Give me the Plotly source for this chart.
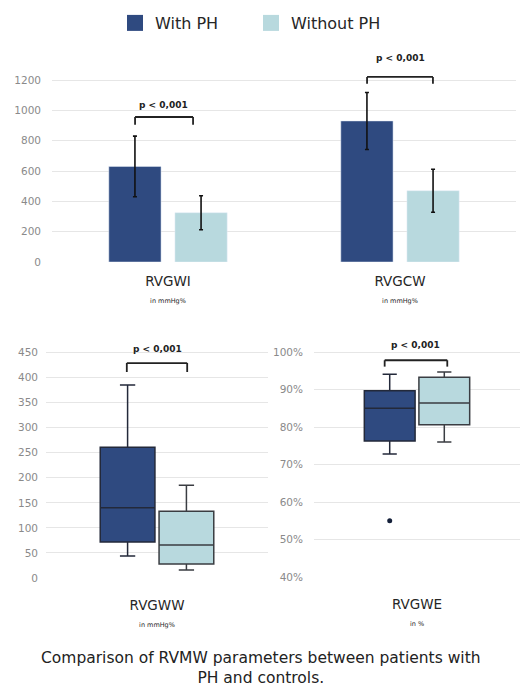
import plotly.graph_objects as go

# ---------------- data ----------------
groups = ["With PH", "Without PH"]
colors = ["#2f4a80", "#b8d9de"]

bar_categories = ["RVGWI", "RVGCW"]
bar_units = ["in mmHg%", "in mmHg%"]
bar_with_ph = [630, 930]
bar_with_ph_sd = [200, 188]
bar_without_ph = [325, 470]
bar_without_ph_sd = [112, 142]
bar_ticks = [0, 200, 400, 600, 800, 1000, 1200]

ww_category = ["RVGWW"]
ww_unit = "in mmHg%"
ww_with = dict(lowerfence=[44], q1=[72], median=[140], q3=[261], upperfence=[385])
ww_without = dict(lowerfence=[16], q1=[28], median=[66], q3=[133], upperfence=[185])
ww_ticks = [0, 50, 100, 150, 200, 250, 300, 350, 400, 450]

we_category = ["RVGWE"]
we_unit = "in %"
we_with = dict(lowerfence=[72.8], q1=[76.3], median=[85], q3=[89.7], upperfence=[94.1])
we_with_outliers = [[55]]
we_without = dict(lowerfence=[76], q1=[80.6], median=[86.4], q3=[93.3], upperfence=[94.7])
we_ticks = [40, 50, 60, 70, 80, 90, 100]
we_ticktext = ["40%", "50%", "60%", "70%", "80%", "90%", "100%"]

p_text = "p < 0,001"
caption = "Comparison of RVMW parameters between patients with<br>PH and controls."

FONT = "DejaVu Sans"
GRID = "#e6e6e6"
TICK = "#8a8a8a"
DARK = "#262626"

fig = go.Figure()

# ---------- top bar chart ----------
fig.add_trace(go.Bar(
    x=bar_categories, y=bar_with_ph, name=groups[0], marker_color=colors[0],
    error_y=dict(type="data", array=bar_with_ph_sd, color="#111111", thickness=1.6, width=2),
    xaxis="x", yaxis="y", showlegend=False))
fig.add_trace(go.Bar(
    x=bar_categories, y=bar_without_ph, name=groups[1], marker_color=colors[1],
    error_y=dict(type="data", array=bar_without_ph_sd, color="#111111", thickness=1.6, width=2),
    xaxis="x", yaxis="y", showlegend=False))

# legend entries (square swatches)
for g, c in zip(groups, colors):
    fig.add_trace(go.Scatter(x=[None], y=[None], mode="markers", name=g,
                             marker=dict(symbol="square", size=18, color=c),
                             xaxis="x", yaxis="y", showlegend=True))

box_line_with = dict(color="#23293a", width=1.5)
box_line_without = dict(color="#3a3d42", width=1.5)

# ---------- bottom left box ----------
fig.add_trace(go.Box(x=ww_category, **ww_with, name=groups[0], fillcolor=colors[0],
                     line=box_line_with, whiskerwidth=0.28, boxpoints=False,
                     alignmentgroup="ww", offsetgroup="with",
                     showlegend=False, xaxis="x2", yaxis="y2"))
fig.add_trace(go.Box(x=ww_category, **ww_without, name=groups[1], fillcolor=colors[1],
                     line=box_line_without, whiskerwidth=0.28, boxpoints=False,
                     alignmentgroup="ww", offsetgroup="without",
                     showlegend=False, xaxis="x2", yaxis="y2"))

# ---------- bottom right box ----------
fig.add_trace(go.Box(x=we_category, y=we_with_outliers, **we_with, name=groups[0], fillcolor=colors[0],
                     line=box_line_with, whiskerwidth=0.28,
                     boxpoints="outliers", marker=dict(color="#15203a", size=5),
                     alignmentgroup="we", offsetgroup="with",
                     showlegend=False, xaxis="x3", yaxis="y3"))
fig.add_trace(go.Box(x=we_category, **we_without, name=groups[1], fillcolor=colors[1],
                     line=box_line_without, whiskerwidth=0.28, boxpoints=False,
                     alignmentgroup="we", offsetgroup="without",
                     showlegend=False, xaxis="x3", yaxis="y3"))

def label(cat, unit):
    return f"{cat}<br><span style='font-size:6.5px'>{unit}</span>"

H = 688.0
W = 522.0
def py(pix):
    return (H - pix) / H
def px(pix):
    return pix / W

axis_common = dict(showline=False, zeroline=False, ticks="", fixedrange=True, automargin=False)
cat_font = dict(size=13.5, color=DARK)
tick_font = dict(size=10.5, color=TICK)

fig.update_layout(
    width=522, height=688,
    margin=dict(l=0, r=0, t=0, b=0, autoexpand=False),
    paper_bgcolor="white", plot_bgcolor="white",
    font=dict(family=FONT, color=DARK),
    barmode="group", bargap=0.43, bargroupgap=0.21,
    boxmode="group", boxgap=0.47, boxgroupgap=0.07,
    showlegend=True,
    legend=dict(orientation="h", x=px(115), xanchor="left", y=py(23), yanchor="middle",
                font=dict(size=16, color=DARK), itemwidth=30, entrywidth=91,
                traceorder="normal", bgcolor="rgba(0,0,0,0)"),
    xaxis=dict(domain=[px(52), px(516)], type="category", range=[-0.5, 1.5],
               tickvals=bar_categories,
               ticktext=[label(c, u) for c, u in zip(bar_categories, bar_units)],
               tickfont=cat_font, ticklabelstandoff=9, showgrid=False,
               anchor="y", **axis_common),
    yaxis=dict(domain=[py(262), py(262 - 1440 * 182 / 1200)], range=[0, 1440],
               tickvals=bar_ticks,
               showgrid=True, gridcolor=GRID, gridwidth=1,
               tickfont=tick_font, ticklabelstandoff=10, anchor="x",
               **axis_common),
    xaxis2=dict(domain=[px(46), px(268)], type="category", range=[-0.5, 0.5],
                tickvals=ww_category, ticktext=[label(ww_category[0], ww_unit)],
                tickfont=cat_font, ticklabelstandoff=17, showgrid=False,
                anchor="y2", **axis_common),
    yaxis2=dict(domain=[py(578), py(578 - 480 * 225.5 / 450)], range=[0, 480],
                tickvals=ww_ticks,
                showgrid=True, gridcolor=GRID, gridwidth=1,
                tickfont=tick_font, ticklabelstandoff=7, anchor="x2",
                **axis_common),
    xaxis3=dict(domain=[px(314), px(520)], type="category", range=[-0.5, 0.5],
                tickvals=we_category, ticktext=[label(we_category[0], we_unit)],
                tickfont=cat_font, ticklabelstandoff=17, showgrid=False,
                anchor="y3", **axis_common),
    yaxis3=dict(domain=[py(577), py(577 - 64 * 3.75)], range=[40, 104],
                tickvals=we_ticks, ticktext=we_ticktext,
                showgrid=True, gridcolor=GRID, gridwidth=1,
                tickfont=tick_font, ticklabelstandoff=10, anchor="x3",
                **axis_common),
)

# ---------- significance brackets ----------
brackets = [
    # (xref, yref, x_left, x_right, y_top, y_leg, y_text, x_text)
    ("x", "y", -0.142, 0.108, 956, 905, 1035, -0.02),
    ("x", "y", 0.858, 1.142, 1220, 1175, 1345, 1.0),
    ("x2", "y2", -0.136, 0.136, 429, 411, 457, 0.0),
    ("x3", "y3", -0.157, 0.147, 97.8, 96.1, 101.9, -0.005),
]
for xr, yr, xl, xrgt, yt, yl, ytx, xtx in brackets:
    ln = dict(color="#222222", width=1.8)
    fig.add_shape(type="line", xref=xr, yref=yr, x0=xl, x1=xrgt, y0=yt, y1=yt, line=ln)
    fig.add_shape(type="line", xref=xr, yref=yr, x0=xl, x1=xl, y0=yt, y1=yl, line=ln)
    fig.add_shape(type="line", xref=xr, yref=yr, x0=xrgt, x1=xrgt, y0=yt, y1=yl, line=ln)
    fig.add_annotation(xref=xr, yref=yr, x=xtx, y=ytx, text=f"<b>{p_text}</b>",
                       showarrow=False, font=dict(size=9, color="#222222"))

fig.add_annotation(xref="paper", yref="paper", x=0.5, y=py(668), yanchor="middle",
                   text=caption, showarrow=False,
                   font=dict(size=15.5, color="#222222", family=FONT))

fig.write_html("out.html", config={"displayModeBar": False},
               post_script="document.body.style.margin='0';document.body.style.padding='0';")
